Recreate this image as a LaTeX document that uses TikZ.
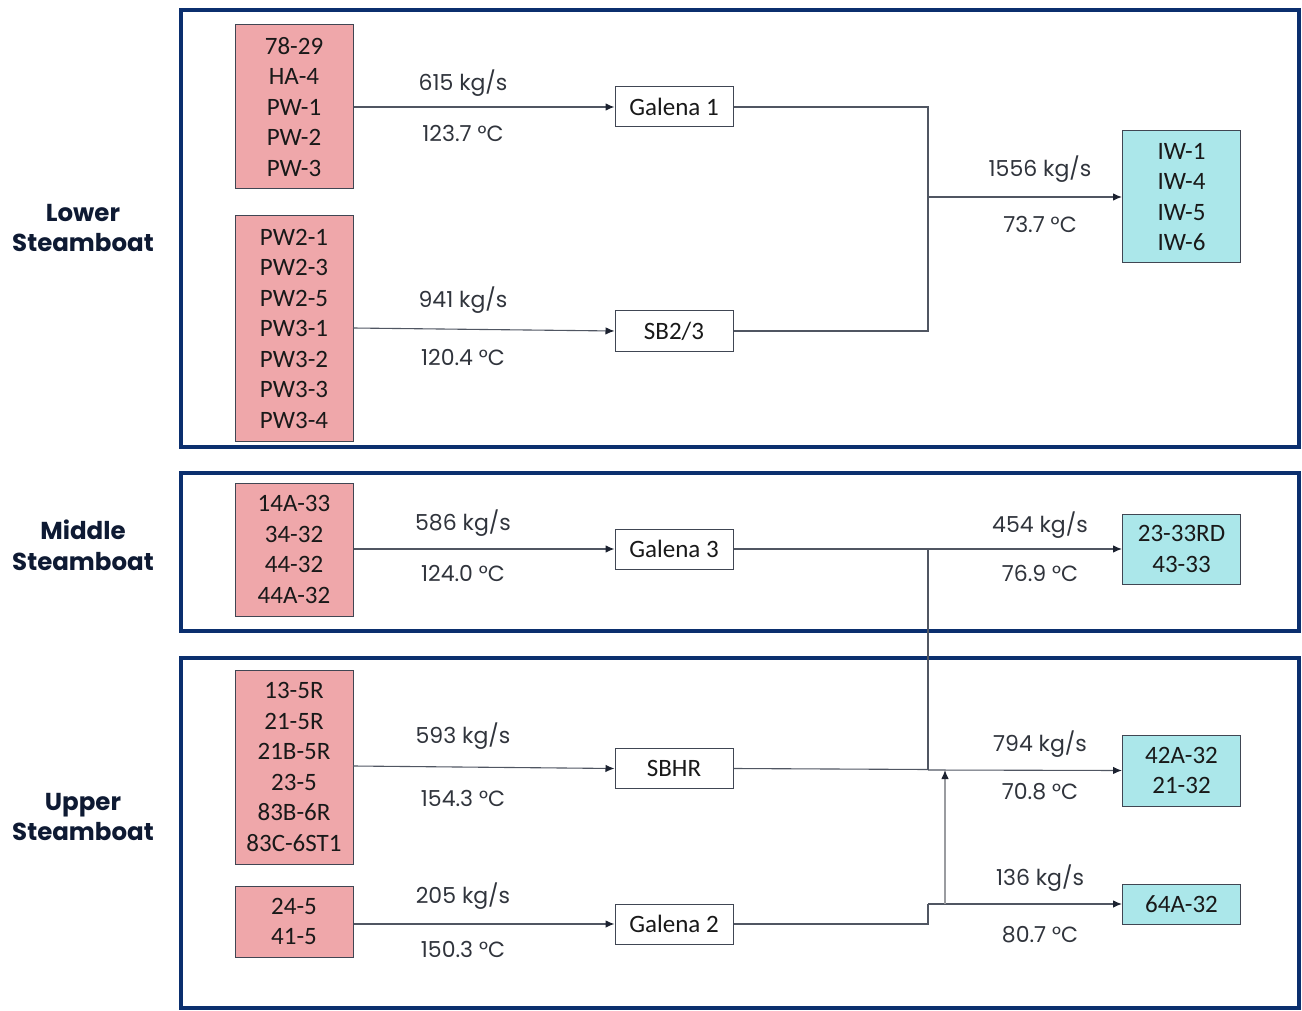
\documentclass[tikz,border=0pt]{standalone}
\usepackage{fontspec}
\setmainfont{Poppins}
\newfontfamily\carlito{Carlito}
\newfontfamily\popp{Poppins}
\usetikzlibrary{arrows.meta}
\definecolor{navy}{HTML}{0B2F6E}
\definecolor{srcpink}{HTML}{EFA7AA}
\definecolor{sinkcyan}{HTML}{ABE7EA}
\definecolor{boxline}{HTML}{404653}
\definecolor{txt}{HTML}{30343C}
\definecolor{conn}{HTML}{505662}
\definecolor{headcol}{HTML}{1C2230}
\definecolor{lightconn}{HTML}{9A9CA0}
\definecolor{headtxt}{HTML}{0E1A33}
\tikzset{
  frame/.style={draw=navy, line width=3.6pt},
  boxbase/.style={draw=boxline, line width=1pt, inner sep=0pt, align=center,
     minimum width=118pt, text=black!90,
     font=\carlito\fontsize{25}{30.5}\selectfont},
  src/.style={boxbase, fill=srcpink},
  sink/.style={boxbase, fill=sinkcyan},
  proc/.style={boxbase, fill=white, minimum height=40pt},
  flow/.style={text=txt, font=\popp\fontsize{22}{24}\selectfont, inner sep=0pt},
  head/.style={text=headtxt, align=center, font=\popp\bfseries\fontsize{24.5}{30.5}\selectfont, inner sep=0pt},
  conline/.style={draw=conn, line width=1.1pt},
  arr/.style={conline, -{Latex[length=9pt,width=7.5pt,color=headcol]}},
  uparr/.style={draw=lightconn, line width=1.1pt, -{Latex[length=9pt,width=7.5pt,color=headcol]}}
}
\begin{document}
\begin{tikzpicture}[x=1pt,y=-1pt]
\useasboundingbox (0,0) rectangle (1302,1011);
% frames
\draw[frame] (181,10) rectangle (1299,447);
\draw[frame] (181,473) rectangle (1299,631);
\draw[frame] (181,658) rectangle (1299,1008);
% headings
\node[head] (hl) at (83,228) {Lower\\Steamboat};
\node[head] (hm) at (83,545.5) {Middle\\Steamboat};
\node[head] (hu) at (83,817) {Upper\\Steamboat};
% sources
\node[src, minimum height=164pt] (s1) at (294,107) {78-29\\HA-4\\PW-1\\PW-2\\PW-3};
\node[src, minimum height=225pt] (s2) at (294,328.5) {PW2-1\\PW2-3\\PW2-5\\PW3-1\\PW3-2\\PW3-3\\PW3-4};
\node[src, minimum height=133pt] (s3) at (294,549.5) {14A-33\\34-32\\44-32\\44A-32};
\node[src, minimum height=194pt] (s4) at (294,767) {13-5R\\21-5R\\21B-5R\\23-5\\83B-6R\\83C-6ST1};
\node[src, minimum height=71pt] (s5) at (294,921.5) {24-5\\41-5};
% processes
\node[proc] (g1) at (674,107) {Galena 1};
\node[proc] (sb) at (674,331) {SB2/3};
\node[proc] (g3) at (674,549) {Galena 3};
\node[proc] (hr) at (674,768.5) {SBHR};
\node[proc] (g2) at (674,924) {Galena 2};
% sinks
\node[sink, minimum height=132pt] (iw) at (1181.5,197) {IW-1\\IW-4\\IW-5\\IW-6};
\node[sink, minimum height=70pt] (k1) at (1181.5,549) {23-33RD\\43-33};
\node[sink, minimum height=71pt] (k2) at (1181.5,770.5) {42A-32\\21-32};
\node[sink, minimum height=40pt] (k3) at (1181.5,904) {64A-32};
% junction coordinates
\coordinate (j1) at (928,107);
\coordinate (j2) at (928,331);
\coordinate (j3) at (928,197);
\coordinate (j4) at (928,549);
\coordinate (j5) at (928,770);
\coordinate (j6) at (928,924);
\coordinate (j7) at (928,904);
\coordinate (j8) at (945,904);
\coordinate (j9) at (945,770);
% connectors
\draw[arr] (s1.east |- g1) -- (g1.west);
\draw[arr] (353,328) -- (sb.west);
\draw[conline] (g1.east) -- (j1) -- (j2) -- (sb.east);
\draw[arr] (j3) -- (iw.west);
\draw[arr] (s3.east |- g3) -- (g3.west);
\draw[arr] (g3.east) -- (k1.west);
\draw[conline] (j4) -- (j5);
\draw[arr] (353,766) -- (hr.west);
\draw[conline] (hr.east) -- (928,769.5);
\draw[arr] (j5) -- (k2.west);
\draw[arr] (s5.east |- g2) -- (g2.west);
\draw[conline] (g2.east) -- (j6) -- (j7);
\draw[arr] (j7) -- (k3.west);
\draw[uparr] (j8) -- (j9);
% flow labels
\node[flow] (l1a) at (463,83) {615 kg/s};
\node[flow] (l1b) at (463,133) {123.7 °C};
\node[flow] (l2a) at (463,300) {941 kg/s};
\node[flow] (l2b) at (463,357) {120.4 °C};
\node[flow] (l3a) at (1040,169) {1556 kg/s};
\node[flow] (l3b) at (1040,224) {73.7 °C};
\node[flow] (l4a) at (463,523) {586 kg/s};
\node[flow] (l4b) at (463,573) {124.0 °C};
\node[flow] (l5a) at (1040,525) {454 kg/s};
\node[flow] (l5b) at (1040,573) {76.9 °C};
\node[flow] (l6a) at (463,736) {593 kg/s};
\node[flow] (l6b) at (463,798) {154.3 °C};
\node[flow] (l7a) at (1040,744) {794 kg/s};
\node[flow] (l7b) at (1040,792) {70.8 °C};
\node[flow] (l8a) at (463,896) {205 kg/s};
\node[flow] (l8b) at (463,949) {150.3 °C};
\node[flow] (l9a) at (1040,878) {136 kg/s};
\node[flow] (l9b) at (1040,935) {80.7 °C};
\end{tikzpicture}
\end{document}
